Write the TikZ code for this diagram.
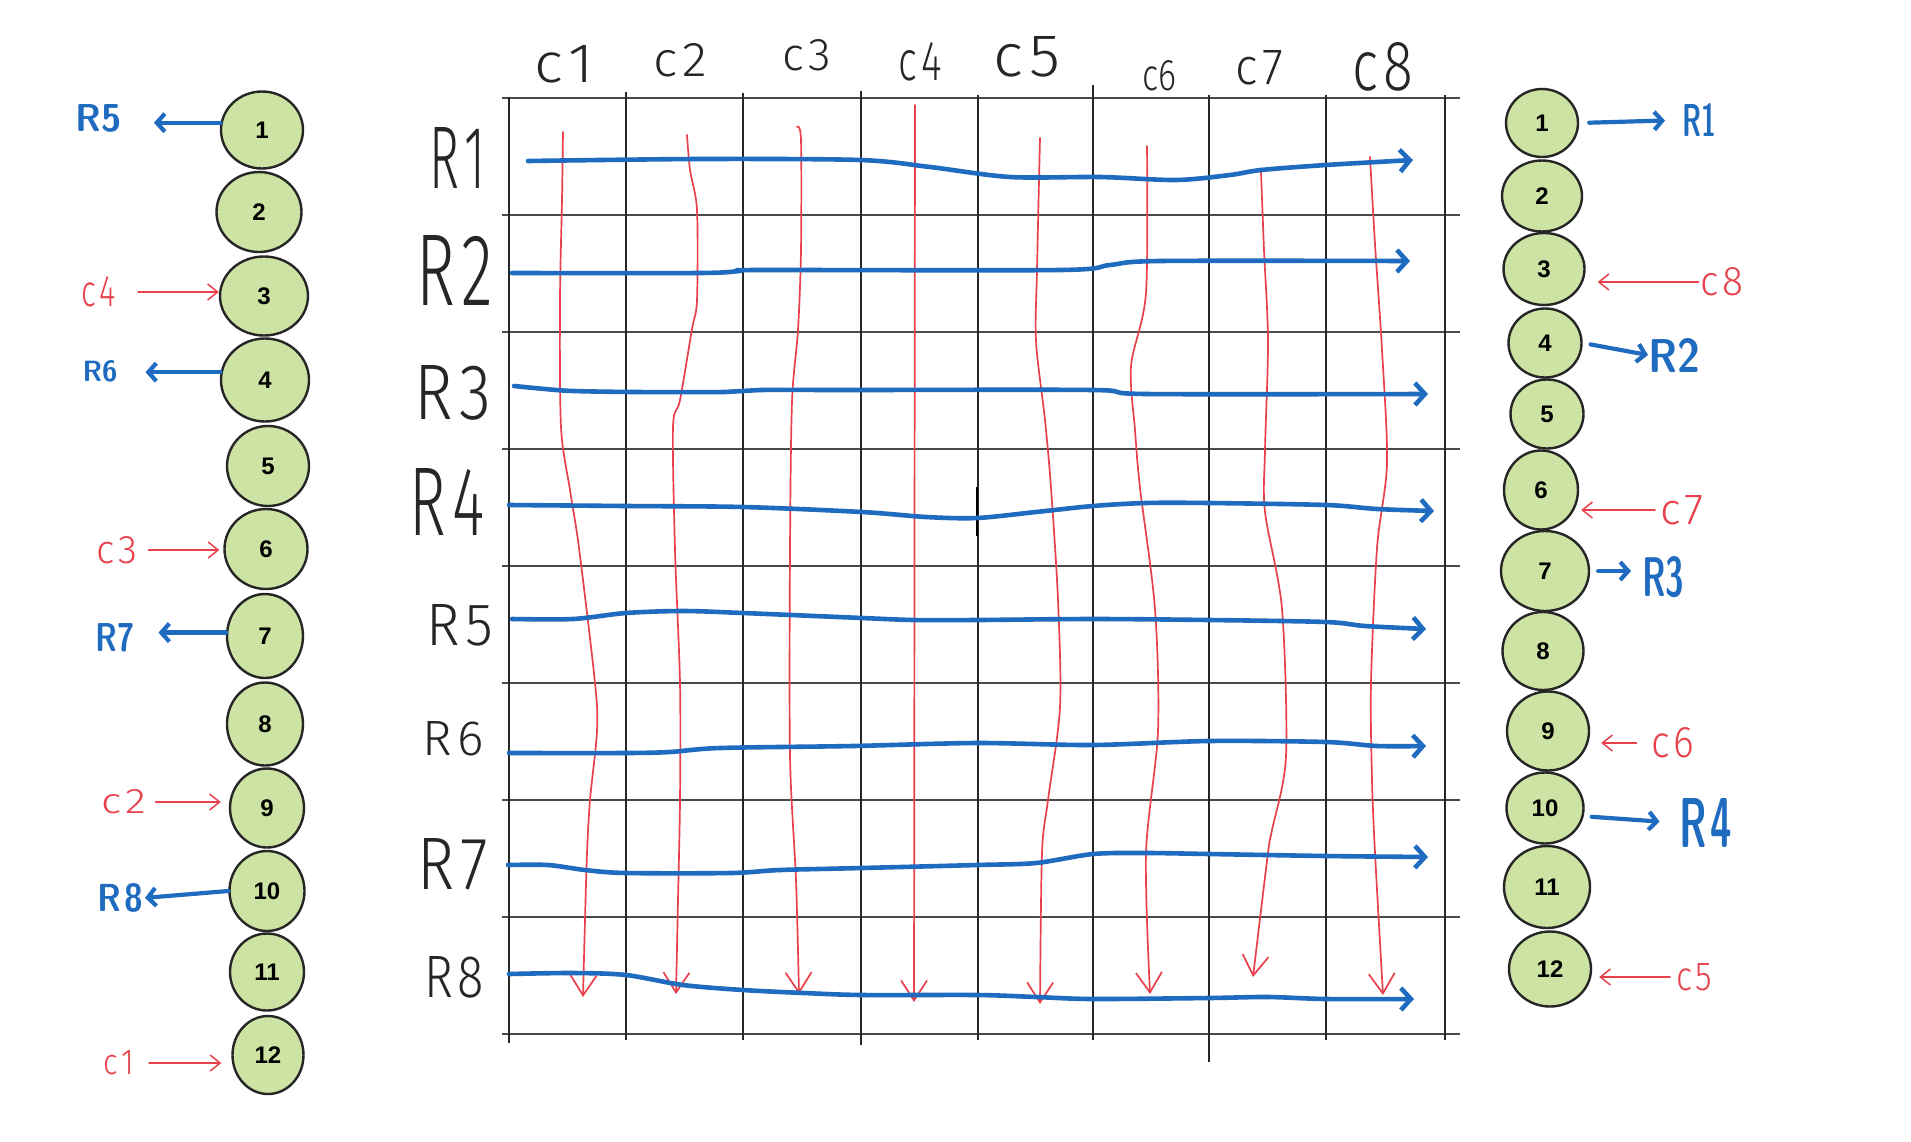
\documentclass[tikz,border=0pt]{standalone}
\usepackage{fontspec}
\usepackage{graphicx}
\usetikzlibrary{arrows.meta,shapes.geometric}
\newfontfamily\numfont{Liberation Sans}
\newfontfamily\handfont{Fira Sans Light}
\definecolor{penblue}{HTML}{1F6BBF}
\definecolor{penred}{HTML}{E8414B}
\definecolor{nodegreen}{HTML}{CDE3A3}
\definecolor{gridgray}{HTML}{4A4A4A}
\newcommand\hw[3]{\resizebox{#1pt}{#2pt}{#3}}
\tikzset{
  gridh/.style={draw=gridgray, line width=1.4pt},
  gridv/.style={draw=black!85, line width=0.85pt},
  rowpath/.style={draw=penblue, line width=2.3pt, line cap=round, line join=round,
     -{Straight Barb[length=5pt,width=11pt]}},
  colpath/.style={draw=penred, line width=0.85pt, line cap=round,
     -{Straight Barb[length=10pt,width=13pt]}},
  bann/.style={draw=penblue, line width=2.1pt, line cap=round,
     -{Straight Barb[length=4pt,width=9pt]}},
  rann/.style={draw=penred, line width=0.75pt, line cap=round,
     -{Straight Barb[length=5pt,width=8pt]}},
  circ/.style={ellipse, draw=black!85, line width=1.2pt, fill=nodegreen, inner sep=0pt,
     font=\numfont\bfseries\fontsize{12}{14}\selectfont},
  hwlab/.style={inner sep=0pt, outer sep=0pt, font=\handfont, text=black!85},
  hwblue/.style={inner sep=0pt, outer sep=0pt, text=penblue, font=\sffamily\bfseries},
  hwred/.style={hwlab, text=penred},
}
\begin{document}
\begin{tikzpicture}[x=0.5pt,y=-0.5pt]
\fill[white] (0,0) rectangle (1911,1141);
\useasboundingbox (0,0) rectangle (1911,1141);

% grid
\foreach \yy in {98,215,332,449,566,683,800,917,1034}
  \draw[gridh] (502,\yy) -- (1460,\yy);
\draw[gridv] (509,97) -- (509,1043);
\draw[gridv] (626,92) -- (626,1040);
\draw[gridv] (743,93) -- (743,1040);
\draw[gridv] (861,91) -- (861,1045);
\draw[gridv] (978,95) -- (978,1040);
\draw[gridv] (1093,85) -- (1093,1040);
\draw[gridv] (1209,95) -- (1209,1062);
\draw[gridv] (1326,95) -- (1326,1040);
\draw[gridv] (1445,95) -- (1445,1040);
\draw[line width=1.4pt] (977,487) -- (977,536);

% column paths (red)
\draw[colpath] plot[smooth, tension=0.5] coordinates {(563,132) (562,200) (560,300) (561,427) (570,490) (579,548) (595,683) (597,731) (590,800) (587,853) (585,920) (583,997)};
\draw[colpath] plot[smooth, tension=0.5] coordinates {(687,135) (690,170) (697,210) (697,300) (692,329) (680,400) (673,427) (675,550) (680,683) (680,800) (678,900) (676,994)};
\draw[colpath] plot[smooth, tension=0.5] coordinates {(797,127) (801,140) (801,250) (798,330) (792,402) (790,550) (790,756) (796,880) (799,994)};
\draw[colpath] (915,105) -- (914,1002);
\draw[colpath] plot[smooth, tension=0.5] coordinates {(1040,138) (1037,270) (1036,341) (1045,420) (1051,488) (1058,600) (1060,707) (1048,800) (1042,853) (1040,1004)};
\draw[colpath] plot[smooth, tension=0.5] coordinates {(1147,146) (1146,293) (1131,366) (1135,430) (1140,488) (1155,609) (1158,731) (1146,853) (1150,994)};
\draw[colpath] plot[smooth, tension=0.5] coordinates {(1261,172) (1264,250) (1268,341) (1265,450) (1265,512) (1282,609) (1286,756) (1272,830) (1268,853) (1253,977)};
\draw[colpath] plot[smooth, tension=0.5] coordinates {(1370,157) (1375,244) (1382,350) (1387,463) (1377,548) (1371,683) (1372,780) (1375,853) (1383,995)};

% row paths (blue)
\draw[rowpath] plot[smooth, tension=0.5] coordinates {(528,161) (700,159) (860,160) (930,167) (1010,177) (1100,177) (1176,180) (1230,175) (1261,170) (1326,165) (1413,160)};
\draw[rowpath] plot[smooth, tension=0.5] coordinates {(512,273) (700,273) (740,271) (760,270) (1060,270) (1110,265) (1160,261) (1410,261)};
\draw[rowpath] plot[smooth, tension=0.5] coordinates {(514,386) (545,389) (573,391) (634,392) (725,392) (760,390) (853,390) (1093,390) (1146,394) (1428,394)};
\draw[rowpath] plot[smooth, tension=0.5] coordinates {(509,505) (626,506) (743,507) (862,512) (926,517) (977,518) (1036,512) (1093,506) (1146,503) (1209,503) (1326,505) (1377,509) (1434,511)};
\draw[rowpath] plot[smooth, tension=0.5] coordinates {(512,619) (573,619) (626,613) (683,611) (743,613) (862,618) (914,620) (977,620) (1093,619) (1209,620) (1326,622) (1365,626) (1426,629)};
\draw[rowpath] plot[smooth, tension=0.5] coordinates {(509,753) (626,753) (670,752) (720,748) (853,746) (977,743) (1093,745) (1209,741) (1326,742) (1377,746) (1426,746)};
\draw[rowpath] plot[smooth, tension=0.5] coordinates {(508,865) (548,865) (585,870) (626,873) (731,873) (780,870) (862,868) (977,865) (1036,863) (1093,854) (1146,853) (1209,854) (1326,856) (1428,857)};
\draw[rowpath] plot[smooth, tension=0.5] coordinates {(509,974) (573,973) (626,975) (683,985) (743,990) (804,993) (862,995) (977,995) (1036,997) (1093,999) (1209,998) (1268,997) (1326,999) (1414,999)};

% row labels
\node[hwlab] (rowR1) at (457,158) {\hw{28}{30.5}{R\kern0.1em 1}};
\node[hwlab] (rowR2) at (455,270) {\hw{38.5}{35}{R\kern0.1em 2}};
\node[hwlab] (rowR3) at (453,393) {\hw{38.5}{27}{R\kern0.1em 3}};
\node[hwlab] (rowR4) at (447,502) {\hw{37.5}{33.5}{R\kern0.1em 4}};
\node[hwlab] (rowR5) at (460,625) {\hw{33.5}{20.5}{R\kern0.1em 5}};
\node[hwlab] (rowR6) at (453,739) {\hw{30.5}{17}{R\kern0.1em 6}};
\node[hwlab] (rowR7) at (453,864) {\hw{35.5}{25.5}{R\kern0.1em 7}};
\node[hwlab] (rowR8) at (454,977) {\hw{30}{20.5}{R\kern0.1em 8}};

% column labels
\node[hwlab] (colc1) at (564,64) {\hw{30}{18.5}{c\kern0.1em 1}};
\node[hwlab] (colc2) at (680,60) {\hw{27}{16.5}{c\kern0.1em 2}};
\node[hwlab] (colc3) at (807,55) {\hw{24.5}{15.5}{c\kern0.1em 3}};
\node[hwlab] (colc4) at (920,62) {\hw{21.5}{19}{c\kern0.1em 4}};
\node[hwlab] (colc5) at (1027,57) {\hw{33.5}{20}{c\kern0.1em 5}};
\node[hwlab] (colc6) at (1159,76) {\hw{17}{15}{c6}};
\node[hwlab] (colc7) at (1259,68) {\hw{24}{17}{c\kern0.1em 7}};
\node[hwlab] (colc8) at (1383,67) {\hw{30.5}{24}{c\kern0.1em 8}};

% left circles
\node[circ, minimum width=41pt, minimum height=38.5pt] (L1) at (262,130) {1};
\node[circ, minimum width=42.5pt, minimum height=40pt] (L2) at (259,212) {2};
\node[circ, minimum width=44pt, minimum height=39.5pt] (L3) at (264,296) {3};
\node[circ, minimum width=44pt, minimum height=41.5pt] (L4) at (265,380) {4};
\node[circ, minimum width=41pt, minimum height=40pt] (L5) at (268,466) {5};
\node[circ, minimum width=41.5pt, minimum height=40pt] (L6) at (266,549) {6};
\node[circ, minimum width=38pt, minimum height=42pt] (L7) at (265,636) {7};
\node[circ, minimum width=38pt, minimum height=41.5pt] (L8) at (265,724) {8};
\node[circ, minimum width=37pt, minimum height=39.5pt] (L9) at (267,808) {9};
\node[circ, minimum width=37.5pt, minimum height=40pt] (L10) at (267,891) {10};
\node[circ, minimum width=37pt, minimum height=38.5pt] (L11) at (267,972) {11};
\node[circ, minimum width=35.5pt, minimum height=39pt] (L12) at (268,1055) {12};

% right circles
\node[circ, minimum width=36pt, minimum height=34pt] (Q1) at (1542,123) {1};
\node[circ, minimum width=40pt, minimum height=35.5pt] (Q2) at (1542,196) {2};
\node[circ, minimum width=40.5pt, minimum height=36pt] (Q3) at (1544,269) {3};
\node[circ, minimum width=36.5pt, minimum height=34.5pt] (Q4) at (1545,343) {4};
\node[circ, minimum width=36.5pt, minimum height=34.5pt] (Q5) at (1547,414) {5};
\node[circ, minimum width=37pt, minimum height=39.5pt] (Q6) at (1541,490) {6};
\node[circ, minimum width=44pt, minimum height=40pt] (Q7) at (1545,571) {7};
\node[circ, minimum width=40.5pt, minimum height=39pt] (Q8) at (1543,651) {8};
\node[circ, minimum width=41pt, minimum height=39.5pt] (Q9) at (1548,731) {9};
\node[circ, minimum width=38.5pt, minimum height=35.5pt] (Q10) at (1545,808) {10};
\node[circ, minimum width=43pt, minimum height=41pt] (Q11) at (1547,887) {11};
\node[circ, minimum width=41pt, minimum height=37.5pt] (Q12) at (1550,969) {12};

% left annotation labels
\node[hwblue] (lR5) at (99,118) {\hw{23}{13.5}{R5}};
\node[hwred]  (lc4) at (99,292) {\hw{17}{15}{c\kern0.1em 4}};
\node[hwblue] (lR6) at (100,371) {\hw{17.5}{10.5}{R6}};
\node[hwred]  (lc3) at (117,550) {\hw{20.5}{13.5}{c\kern0.1em 3}};
\node[hwblue] (lR7) at (115,638) {\hw{19.5}{14}{R7}};
\node[hwred]  (lc2) at (124,802) {\hw{22.5}{12}{c\kern0.1em 2}};
\node[hwblue] (lR8) at (120,898) {\hw{23}{14}{R\kern0.1em 8}};
\node[hwred]  (lc1) at (119,1063) {\hw{15}{12}{c\kern0.1em 1}};

% right annotation labels
\node[hwblue] (rR1) at (1699,120) {\hw{17}{16.5}{R1}};
\node[hwred]  (rc8) at (1722,282) {\hw{21.5}{14}{c\kern0.1em 8}};
\node[hwblue] (rR2) at (1674,355) {\hw{26}{17}{R2}};
\node[hwred]  (rc7) at (1682,510) {\hw{22}{14.5}{c\kern0.1em 7}};
\node[hwblue] (rR3) at (1663,577) {\hw{21}{20}{R3}};
\node[hwred]  (rc6) at (1673,743) {\hw{21.5}{15}{c\kern0.1em 6}};
\node[hwblue] (rR4) at (1706,823) {\hw{26.5}{24.5}{R\kern0.1em 4}};
\node[hwred]  (rc5) at (1694,977) {\hw{18}{13.5}{c\kern0.1em 5}};

% left annotation arrows
\draw[bann, shorten >=16pt] (L1.170) -- (L1.170 -| lR5.east);
\draw[rann, shorten <=11pt] (lc4.east) -- (lc4.east -| L3.west);
\draw[bann, shorten >=14pt] (L4.170) -- (L4.170 -| lR6.east);
\draw[rann, shorten <=5.5pt, shorten >=2pt] (lc3.east) -- (lc3.east -| L6.west);
\draw[bann, shorten >=12pt] (L7.175) -- (L7.175 -| lR7.east);
\draw[rann, shorten <=4.5pt, shorten >=4pt] (lc2.east) -- (lc2.east -| L9.west);
\draw[bann, shorten >=1pt] (L10.west) -- (lR8.east);
\draw[rann, shorten <=7.5pt, shorten >=5pt] (lc1.east) -- (lc1.east -| L12.west);

% right annotation arrows
\draw[bann, shorten <=5pt, shorten >=8.5pt] (Q1.east) -- (rR1.west);
\draw[rann, shorten <=1pt, shorten >=6pt] (rc8.west) -- (rc8.west -| Q3.east);
\draw[bann, shorten <=4pt, shorten >=0pt] (Q4.east) -- (rR2.west);
\draw[rann, shorten <=2.5pt, shorten >=1pt] (rc7.west) -- (rc7.west -| Q6.east);
\draw[bann, shorten <=4pt, shorten >=5.5pt] (Q7.east) -- (Q7.east -| rR3.west);
\draw[rann, shorten <=7.5pt, shorten >=5.5pt] (rc6.west) -- (rc6.west -| Q9.east);
\draw[bann, shorten <=4pt, shorten >=10pt] (Q10.-12) -- (rR4.west);
\draw[rann, shorten <=3pt, shorten >=3.5pt] (rc5.west) -- (rc5.west -| Q12.east);
\end{tikzpicture}
\end{document}
